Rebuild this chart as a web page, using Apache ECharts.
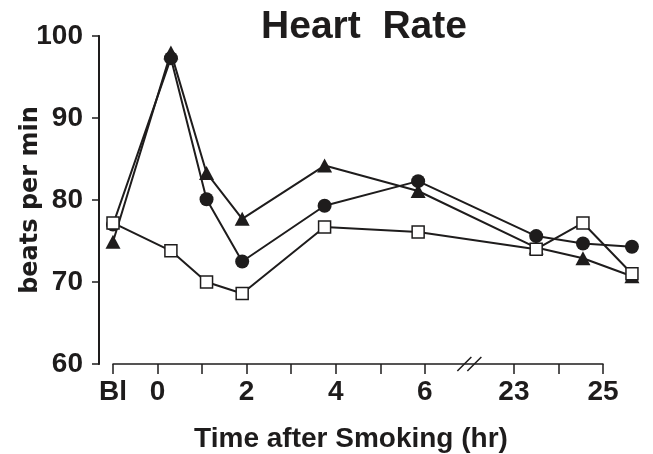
<!DOCTYPE html>
<html><head><meta charset="utf-8">
<script src="https://cdn.jsdelivr.net/npm/echarts@6/dist/echarts.min.js"></script>
<style>html,body{margin:0;padding:0;background:#fff}#c{width:653px;height:454px}</style>
</head><body><div id="c"></div>
<script>
// Time points (hours after smoking; 'Bl' = baseline)
var times = ['Bl', 0.3, 1.1, 1.9, 3.75, 5.85, 23.5, 24.55, 25.65];
var circleSeries   = [77.0, 97.3, 80.1, 72.5, 79.3, 82.3, 75.6, 74.7, 74.3];
var triangleSeries = [74.9, 98.0, 83.3, 77.7, 84.2, 81.1, 74.2, 72.9, 70.7];
var squareSeries   = [77.2, 73.8, 70.0, 68.6, 76.7, 76.1, 74.0, 77.2, 71.0];
var tickTimes  = ['Bl', 0, 1, 2, 3, 4, 5, 6, 23, 24, 25];
var labelTimes = ['Bl', 0, 2, 4, 6, 23, 25];
var yTicks = [60, 70, 80, 90, 100];

// broken axis: hours 6..23 are compressed; Bl sits one step before 0
function pos(t){ if (t === 'Bl') return -1; return t > 7 ? t - 15 : t; }
function label(p){ if (p === -1) return 'Bl'; return String(p > 7 ? p + 15 : p); }
function pairs(vals){ return vals.map(function(v,i){ return [pos(times[i]), v]; }); }

var ink = '#1e1c1c';
var el = document.getElementById('c');
var chart = echarts.init(el);

// the drawn axis runs Bl..25 h; the last points lie past 25 h, so the series
// use a second, hidden grid with the same scale but a wider extent.
var W = el.clientWidth;
var L = 113, R = 50, T = 36, B = 90, yOffset = 14;
var axMin = pos(tickTimes[0]), axMax = pos(tickTimes[tickTimes.length-1]);
var dataMax = Math.max.apply(null, times.filter(function(t){return t!=='Bl';}).map(pos)) + 0.1;
var ppu = (W - L - R) / (axMax - axMin);
var R2 = W - L - ppu * (dataMax - axMin);
var yMin = yTicks[0], yMax = yTicks[yTicks.length-1];

var lineCommon = { type:'line', xAxisIndex:1, yAxisIndex:1, lineStyle:{color:ink, width:2}, animation:false };
chart.setOption({
  backgroundColor:'#fff',
  animation:false,
  title:[{
    text:'Heart  Rate', left:364, top:8, textAlign:'center', padding:0,
    textStyle:{fontFamily:'Liberation Sans', fontWeight:'bold', fontSize:39, color:ink}
  },{
    text:'Time after Smoking (hr)', left:351, top:425, textAlign:'center', padding:0,
    textStyle:{fontFamily:'Liberation Sans', fontWeight:'bold', fontSize:28, color:ink}
  }],
  grid:[
    {left:L, right:R, top:T, bottom:B, outerBoundsMode:'none', containLabel:false},
    {left:L, right:R2, top:T, bottom:B, outerBoundsMode:'none', containLabel:false}
  ],
  xAxis:[{
    gridIndex:0, type:'value', min:axMin, max:axMax,
    axisLine:{show:true, lineStyle:{color:ink, width:1.5}},
    axisTick:{show:true, length:10, lineStyle:{color:ink, width:1.5}, customValues: tickTimes.map(pos)},
    axisLabel:{customValues: labelTimes.map(pos), formatter:function(v){return label(v);}, margin:14,
      fontFamily:'Liberation Sans', fontWeight:'bold', fontSize:28, color:ink},
    splitLine:{show:false}
  },{
    gridIndex:1, type:'value', min:axMin, max:dataMax, show:false
  }],
  yAxis:[{
    gridIndex:0, type:'value', min:yMin, max:yMax, interval:10, offset:yOffset,
    name:'beats per min', nameLocation:'middle', nameGap:56, nameRotate:90, nameMoveOverlap:false,
    nameTextStyle:{fontFamily:'DejaVu Sans', fontWeight:'bold', fontSize:24, color:ink},
    axisLine:{show:true, onZero:false, lineStyle:{color:ink, width:1.5}},
    axisTick:{show:true, length:7, lineStyle:{color:ink, width:1.5}},
    axisLabel:{margin:16, fontFamily:'Liberation Sans', fontWeight:'bold', fontSize:28, color:ink},
    splitLine:{show:false}
  },{
    gridIndex:1, type:'value', min:yMin, max:yMax, show:false
  }],
  series:[
    Object.assign({}, lineCommon, {name:'triangle', data:pairs(triangleSeries), symbol:'triangle', symbolSize:[15,14],
      itemStyle:{color:ink, borderColor:ink, borderWidth:0}}),
    Object.assign({}, lineCommon, {name:'circle', data:pairs(circleSeries), symbol:'circle', symbolSize:14,
      itemStyle:{color:ink, borderColor:ink, borderWidth:0}}),
    Object.assign({}, lineCommon, {name:'square', data:pairs(squareSeries), symbol:'rect', symbolSize:12,
      itemStyle:{color:'#fff', borderColor:ink, borderWidth:1.5}})
  ]
});
// y-axis spine (offset from the plot) and the "//" break mark, placed from the axes' own scales
var pTop = chart.convertToPixel({xAxisIndex:0, yAxisIndex:0}, [axMin, yMax]);
var pBot = chart.convertToPixel({xAxisIndex:0, yAxisIndex:0}, [axMin, yMin]);
var spineX = Math.round(pTop[0] - yOffset);
var bp = chart.convertToPixel({xAxisIndex:0, yAxisIndex:0}, [7, yMin]);
var gfx = [-5, 5].map(function(dx){
  return {type:'line', z:100, shape:{x1:bp[0]+dx-7, y1:bp[1]+7, x2:bp[0]+dx+7, y2:bp[1]-7},
    style:{stroke:ink, lineWidth:1.5}};
});
gfx.push({type:'rect', z:1000, zlevel:1,
  shape:{x:spineX - 1, y:pTop[1] - 0.75, width:2, height:pBot[1] - pTop[1] + 1.5},
  style:{fill:ink, stroke:null}});
chart.setOption({graphic:{elements:gfx}});
</script></body></html>
